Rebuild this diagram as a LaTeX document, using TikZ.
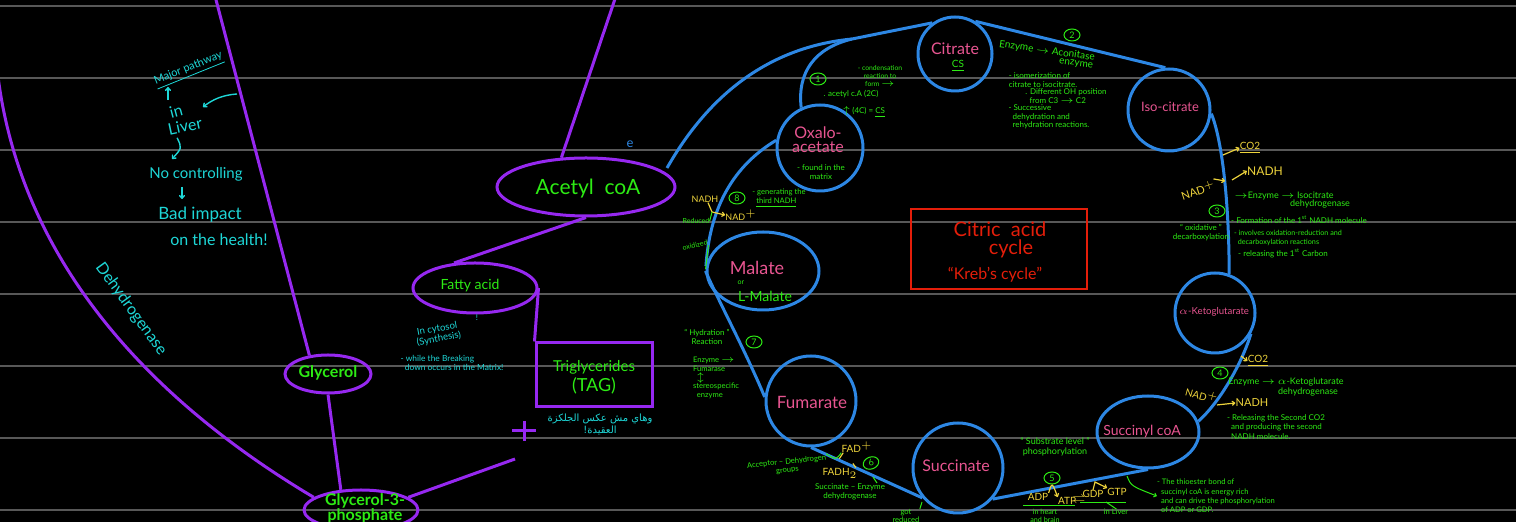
\documentclass[tikz,border=0pt]{standalone}
\usepackage{fontspec}
\setmainfont{Lato}
\newfontfamily\arabicfont[Script=Arabic]{DejaVu Sans}
\TeXXeTstate=1
\usetikzlibrary{arrows.meta,shapes.geometric}
\definecolor{bgline}{RGB}{88,88,88}
\definecolor{purp}{RGB}{150,40,240}
\definecolor{grn}{RGB}{45,235,20}
\definecolor{cyn}{RGB}{30,215,215}
\definecolor{blu}{RGB}{45,135,228}
\definecolor{pnk}{RGB}{232,85,145}
\definecolor{rd}{RGB}{228,30,10}
\definecolor{yel}{RGB}{238,212,60}
\tikzset{
  bgl/.style={draw=bgline, line width=1.4pt},
  cyc/.style={circle, draw=blu, line width=1.5pt, inner sep=0pt},
  cycell/.style={ellipse, draw=blu, line width=1.5pt, inner sep=0pt},
  pell/.style={ellipse, draw=purp, line width=1.5pt, inner sep=0pt},
  pline/.style={draw=purp, line width=1.5pt},
  bline/.style={draw=blu, line width=1.5pt},
  ptxt/.style={text=pnk, inner sep=0pt, align=center},
  gtxt/.style={text=grn, inner sep=0pt, align=center},
  gltxt/.style={text=grn, inner sep=0pt, align=left},
  ctxt/.style={text=cyn, inner sep=0pt, align=center},
  ytxt/.style={text=yel, inner sep=0pt},
  carr/.style={draw=cyn, line width=0.7pt, -{To[length=2pt,width=3pt]}},
  yarr/.style={draw=yel, line width=0.6pt, -{To[length=1.8pt,width=2.6pt]}},
  yln/.style={draw=yel, line width=0.6pt},
  gln/.style={draw=grn, line width=0.5pt},
  garr/.style={draw=grn, line width=0.5pt, -{To[length=1.6pt,width=2.4pt]}},
  num/.style={ellipse, draw=grn, line width=0.5pt, inner sep=0.3pt, minimum width=8pt, minimum height=6pt, text=grn, font=\fontsize{4.5}{4.5}\selectfont},
}
\begin{document}
\begin{tikzpicture}[x=0.5pt, y=-0.5pt]
\useasboundingbox (0,0) rectangle (1516,522);
\fill[black] (0,0) rectangle (1516,522);
\clip (0,0) rectangle (1516,522);
\foreach \yy in {6,78,150,222,294,366,438,510} {\draw[bgl] (0,\yy) -- (1516,\yy);}

% ---------- purple pathway ----------
\node[pell, minimum width=43pt, minimum height=19pt] (gly) at (328,374) {};
\node[gtxt, font=\fontsize{8}{9}\selectfont\bfseries] (glyt) at (328,373) {Glycerol};
\node[pell, minimum width=57pt, minimum height=20pt] (g3p) at (361,510) {};
\node[gtxt, font=\fontsize{8}{7.5}\selectfont\bfseries] (g3pt) at (365,508) {Glycerol-3-\\phosphate};
\node[pell, minimum width=89pt, minimum height=29pt] (acet) at (586,187) {};
\node[gtxt, font=\fontsize{10.5}{12}\selectfont] (acett) at (588,189) {Acetyl\ \ coA};
\node[pell, minimum width=62pt, minimum height=25pt] (fatty) at (475,288) {};
\node[gtxt, font=\fontsize{7}{8}\selectfont] (fattyt) at (470,286) {Fatty acid};
\node[draw=purp, line width=1.5pt, minimum width=58pt, minimum height=32pt, inner sep=0pt] (tag) at (594,375) {};
\node[gtxt, font=\fontsize{7.5}{10}\selectfont] (tagt) at (594,377) {Triglycerides\\{\fontsize{9}{10}\selectfont(TAG)}};

\coordinate (topA) at (215,-4);
\coordinate (leftA) at (-3,68);
\coordinate (topB) at (616,-4);
\coordinate (g3pEnd) at (515,459);
\draw[pline] (topA) -- (gly.135);
\draw[pline] (gly.south) -- (g3p.135);
\draw[pline] (leftA) .. controls (18,260) and (150,400) .. (g3p.165);
\draw[pline] (g3p.15) -- (g3pEnd);
\draw[pline] (acet.130) -- (topB);
\draw[pline] (acet.south) -- (fatty.130);
\draw[pline] (fatty.east) -- (tag.north west);
\coordinate (plc) at (524,431);
\draw[pline] ([xshift=-6pt]plc) -- ([xshift=6pt]plc);
\draw[pline] ([yshift=5pt]plc) -- ([yshift=-5pt]plc);

% ---------- cyan notes (left) ----------
\node[ctxt, rotate=22, font=\fontsize{5.5}{6}\selectfont] (major) at (189,70) {\underline{Major pathway}};
\node[ctxt, rotate=15, font=\fontsize{8}{8}\selectfont] (in) at (176,111) {in};
\node[ctxt, rotate=12, font=\fontsize{8}{8}\selectfont] (liver) at (185,126) {Liver};
\node[ctxt, font=\fontsize{7.5}{8}\selectfont] (nocon) at (196,174) {No controlling};
\node[ctxt, font=\fontsize{8.5}{9}\selectfont] (bad) at (200,215) {Bad impact};
\node[ctxt, font=\fontsize{8}{9}\selectfont] (health) at (219,240) {on the health!};
\node[ctxt, rotate=-54, font=\fontsize{8}{8}\selectfont] (dehyd) at (131,309) {Dehydrogenase};
\coordinate (a1s) at (168,100);
\coordinate (a2s) at (237,94);
\coordinate (a3e) at (172,159);
\coordinate (a4e) at (182,199);
\draw[carr] (a1s) -- (168,87);
\draw[carr] (a2s) .. controls (222,95) and (212,100) .. (203,107);
\draw[carr] (liver.south west) ++(8,2) .. controls (182,148) .. (a3e);
\draw[carr] (182,187) -- (a4e);

\node[ctxt, font=\fontsize{4}{4}\selectfont] (excl) at (477,318) {!};
\node[ctxt, rotate=10, font=\fontsize{4.8}{5}\selectfont] (cytosol) at (438,334) {In cytosol\\(Synthesis)};
\node[ctxt, align=left, font=\fontsize{4.2}{4.6}\selectfont] (breaking) at (452,363) {- while the Breaking\\\ \ down occurs in the Matrix!};
\node[ctxt, font=\fontsize{5}{6}\selectfont\arabicfont] (arab) at (600,424) {\beginR وهاي مش عكس الجلكزة\endR\\\beginR العقيدة!\endR};
\node[text=blu, inner sep=0pt, font=\fontsize{6.5}{7}\selectfont] (emark) at (630,144) {e};

% ---------- citric acid cycle ----------
\node[cyc, minimum size=37pt] (cit) at (955,54) {};
\node[cyc, minimum size=41pt] (iso) at (1169,110) {};
\node[cyc, minimum size=40pt] (akg) at (1215,313) {};
\node[cycell, minimum width=51pt, minimum height=36pt] (scoa) at (1148,432) {};
\node[cyc, minimum size=45pt] (succ) at (958,468) {};
\node[cyc, minimum size=45pt] (fum) at (811,401) {};
\node[cycell, minimum width=56pt, minimum height=39pt] (mal) at (763,271) {};
\node[cyc, minimum size=43pt] (oxa) at (820,148) {};

\coordinate (j) at (852,39);
\coordinate (os) at (667,168);
\draw[bline] (os) .. controls (720,75) and (790,45) .. (j);
\draw[bline] (oxa.115) .. controls (797,72) and (815,48) .. (j);
\draw[bline] (j) -- (cit.126);
\draw[bline] (cit.58) -- (iso.95);
\draw[bline] (iso.-5) .. controls (1222,140) and (1229,200) .. (akg.70);
\draw[bline] (akg.-30) .. controls (1243,360) and (1222,400) .. (scoa.12);
\draw[bline] (scoa.-90) -- (succ.-42);
\draw[bline] (succ.-140) -- (fum.-90);
\draw[bline] (fum.175) .. controls (745,350) and (718,300) .. (mal.180);
\draw[bline] (mal.175) .. controls (710,205) and (735,165) .. (oxa.170);

\node[ptxt, font=\fontsize{8}{9}\selectfont] (citt) at (955,49) {Citrate};
\node[gtxt, font=\fontsize{5}{5}\selectfont] (cs) at (958,66) {\underline{CS}};
\node[ptxt, font=\fontsize{8}{7}\selectfont] (oxat) at (818,140) {Oxalo-\\acetate};
\node[gtxt, font=\fontsize{4}{4.5}\selectfont] (found) at (821,172) {- found in the\\matrix};
\node[ptxt, font=\fontsize{6.5}{7}\selectfont] (isot) at (1170,107) {Iso-citrate};
\node[ptxt, font=\fontsize{4.8}{5}\selectfont] (akgt) at (1214,312) {$\alpha$-Ketoglutarate};
\node[ptxt, font=\fontsize{7}{8}\selectfont] (scoat) at (1142,432) {Succinyl coA};
\node[ptxt, font=\fontsize{8}{9}\selectfont] (suct) at (956,466) {Succinate};
\node[ptxt, font=\fontsize{8.5}{9}\selectfont] (fumt) at (812,402) {Fumarate};
\node[ptxt, font=\fontsize{9}{10}\selectfont] (malt) at (757,268) {Malate};
\node[gtxt, font=\fontsize{3.5}{4}\selectfont] (ortxt) at (741,283) {or};
\node[gtxt, font=\fontsize{7}{8}\selectfont] (lmal) at (765,296) {L-Malate};

% title box
\node[draw=rd, line width=1pt, minimum width=88pt, minimum height=40pt, inner sep=0pt] (title) at (999,249) {};
\node[text=rd, inner sep=0pt, font=\fontsize{10}{10}\selectfont] (tt1) at (1000,229) {Citric\ \ acid};
\node[text=rd, inner sep=0pt, font=\fontsize{10}{10}\selectfont] (tt2) at (1011,249) {cycle};
\node[text=rd, inner sep=0pt, font=\fontsize{8}{8}\selectfont] (tt3) at (995,275) {``Kreb's cycle''};

% step 1
\node[num] (n1) at (818,79) {1};
\node[gtxt, font=\fontsize{3.4}{3.9}\selectfont] (cond) at (880,76) {- condensation\\reaction to\\form $\rightarrow$};
\node[gtxt, font=\fontsize{4}{4}\selectfont] (acs) at (851,94) {. acetyl c.A (2C)};
\node[gtxt, font=\fontsize{4}{4}\selectfont] (fourc) at (864,112) {$\uparrow$\ (4C) = \underline{CS}};

% step 2
\node[num] (n2) at (1072,35) {2};
\node[gtxt, rotate=-8, font=\fontsize{5}{5}\selectfont] (enz2) at (1047,51) {Enzyme $\to$ Aconitase};
\node[gtxt, rotate=-8, font=\fontsize{5}{5}\selectfont] (enz2b) at (1076,64) {enzyme};
\node[gltxt, font=\fontsize{4}{4.3}\selectfont] (iso2) at (1043,80) {- isomerization of\\citrate to isocitrate.};
\node[gltxt, font=\fontsize{4}{4.3}\selectfont] (diff2) at (1066,96) {. Different OH position\\\ \ from C3 $\to$ C2};
\node[gltxt, font=\fontsize{4}{4.3}\selectfont] (succ2) at (1049,117) {- Successive\\\ \ dehydration and\\\ \ rehydration reactions.};

% step 3
\node[ytxt, font=\fontsize{5}{5}\selectfont] (co2a) at (1250,148) {\underline{CO2}};
\coordinate (c3a) at (1223,155);
\draw[yarr] (c3a) -- (co2a.west);
\node[ytxt, rotate=18, font=\fontsize{5.5}{6}\selectfont] (nad3) at (1198,190) {NAD$^+$};
\coordinate (c3b) at (1225,181);
\draw[yarr] (nad3.north east) -- (c3b);
\node[ytxt, font=\fontsize{6}{6}\selectfont] (nadh3) at (1265,171) {NADH};
\coordinate (c3c) at (1232,180);
\draw[yarr] (c3c) -- (nadh3.west);
\node[gltxt, font=\fontsize{4.5}{4.5}\selectfont] (enz3) at (1284,196) {$\to$Enzyme $\to$ Isocitrate};
\node[gtxt, font=\fontsize{4.5}{4.5}\selectfont] (dh3) at (1320,204) {dehydrogenase};
\node[num] (n3) at (1217,211) {3};
\node[gtxt, font=\fontsize{4}{4.5}\selectfont] (ox3) at (1201,233) {`` oxidative ''\\decarboxylation};
\node[gltxt, font=\fontsize{4}{4}\selectfont] (form3) at (1299,220) {- Formation of the 1$^{\mathrm{st}}$ NADH molecule};
\node[gltxt, font=\fontsize{3.6}{4.2}\selectfont] (inv3) at (1288,238) {- involves oxidation-reduction and\\\ \ decarboxylation reactions};
\node[gltxt, font=\fontsize{4}{4}\selectfont] (rel3) at (1283,253) {- releasing the 1$^{\mathrm{st}}$ Carbon};

% step 4
\node[ytxt, font=\fontsize{5}{5}\selectfont] (co2b) at (1258,361) {\underline{CO2}};
\coordinate (c4a) at (1241,356);
\draw[yarr] (c4a) -- (co2b.west);
\node[num] (n4) at (1220,373) {4};
\node[gtxt, font=\fontsize{4.5}{4.5}\selectfont] (enz4) at (1286,382) {Enzyme $\to$ $\alpha$-Ketoglutarate};
\node[gtxt, font=\fontsize{4.5}{4.5}\selectfont] (dh4) at (1308,392) {dehydrogenase};
\node[ytxt, rotate=-15, font=\fontsize{5}{5}\selectfont] (nad4) at (1202,395) {NAD$^+$};
\node[ytxt, font=\fontsize{5.5}{5.5}\selectfont] (nadh4) at (1252,403) {NADH};
\draw[yarr] (nad4.south east) -- (nadh4.west);
\node[gltxt, font=\fontsize{4}{4.8}\selectfont] (rel4) at (1276,427) {- Releasing the Second CO2\\\ \ and producing the second\\\ \ NADH molecule.};

% step 5
\node[gtxt, font=\fontsize{4.5}{5}\selectfont] (sl) at (1055,447) {`` Substrate level ''\\phosphorylation};
\node[num] (n5) at (1052,478) {5};
\node[ytxt, font=\fontsize{5}{5}\selectfont] (adp) at (1038,497) {ADP};
\node[ytxt, font=\fontsize{5}{5}\selectfont] (atp) at (1067,501) {ATP};
\draw[yarr] (adp.north east) .. controls (1052,482) .. (atp.north west);
\node[ytxt, font=\fontsize{5}{5}\selectfont] (eqs) at (1079,500) {$\rightleftharpoons$};
\node[ytxt, font=\fontsize{5}{5}\selectfont] (gdp) at (1093,494) {GDP};
\node[ytxt, font=\fontsize{5}{5}\selectfont] (gtp) at (1117,492) {GTP};
\draw[yarr] (gdp.north) -- (1095,482) -- (gtp.north west);
\draw[gln] (adp.south west) ++(-4,5) -- ++(52,0);
\node[gtxt, font=\fontsize{3.6}{4}\selectfont] (heart) at (1045,516) {in heart\\and brain};
\draw[gln] (gdp.south west) ++(-2,4) -- ++(46,0);
\node[gtxt, font=\fontsize{3.8}{4}\selectfont] (livr5) at (1116,512) {in Liver};
\draw[gln] (1106,502) -- (livr5.north);
\coordinate (h5) at (1127,476);
\node[gltxt, font=\fontsize{3.8}{4.6}\selectfont] (thio) at (1216,496) {- The thioester bond of\\\ \ succinyl coA is energy rich\\\ \ and can drive the phosphorylation\\\ \ of ADP or GDP.};
\draw[garr] (h5) .. controls (1131,486) .. (thio.west);

% step 6
\node[ytxt, font=\fontsize{5}{5}\selectfont] (fad) at (857,447) {FAD$^+$};
\node[ytxt, font=\fontsize{5}{5}\selectfont] (fadh) at (840,473) {FADH$_2$};
\draw[yln] (fad.south west) ++(2,0) -- ++(-4,6);
\draw[yln] (fadh.north east) ++(-2,0) -- ++(-3,-4);
\node[gtxt, rotate=6, font=\fontsize{3.8}{4.2}\selectfont] (acc6) at (787,466) {Acceptor -- Dehydrogen\\groups};
\draw[gln] (acc6.north east) .. controls (836,460) .. (fad.south west);
\node[num, rotate=20] (n6) at (871,463) {6};
\node[gtxt, font=\fontsize{4}{4.4}\selectfont] (s6) at (850,492) {Succinate -- Enzyme\\dehydrogenase};
\draw[gln] (873,477) -- (877,483);
\node[gtxt, font=\fontsize{3.8}{4.2}\selectfont] (got) at (906,516) {got\\reduced};
\draw[gln] (got.north east) -- (922,502);

% step 7
\node[num] (n7) at (754,342) {7};
\node[gtxt, font=\fontsize{4}{4.5}\selectfont] (hyd) at (707,337) {`` Hydration ''\\Reaction};
\node[gltxt, font=\fontsize{3.8}{4.4}\selectfont] (fum7) at (716,378) {Enzyme $\to$\\Fumarase\\\ \ $\updownarrow$\\stereospecific\\\ \ enzyme};

% step 8
\node[num] (n8) at (737,198) {8};
\node[ytxt, font=\fontsize{4.5}{4.5}\selectfont] (nadh8) at (705,199) {NADH};
\node[ytxt, font=\fontsize{4.5}{4.5}\selectfont] (nad8) at (741,215) {NAD$^+$};
\coordinate (j8) at (712,212);
\draw[yln] (nadh8.south) ++(3,0) -- (j8);
\draw[yarr] (j8) -- (nad8.west);
\node[gtxt, font=\fontsize{3.5}{4}\selectfont] (red8) at (696,221) {Reduced};
\draw[gln] (red8.east) -- (j8);
\node[gtxt, rotate=12, font=\fontsize{3.5}{4}\selectfont] (oxd8) at (695,245) {oxidized};
\draw[gln] (oxd8.south east) -- (mal.178);
\node[gltxt, font=\fontsize{3.8}{4.4}\selectfont] (gen8) at (779,198) {- generating the\\\ \ \underline{third NADH}};
\end{tikzpicture}
\end{document}
